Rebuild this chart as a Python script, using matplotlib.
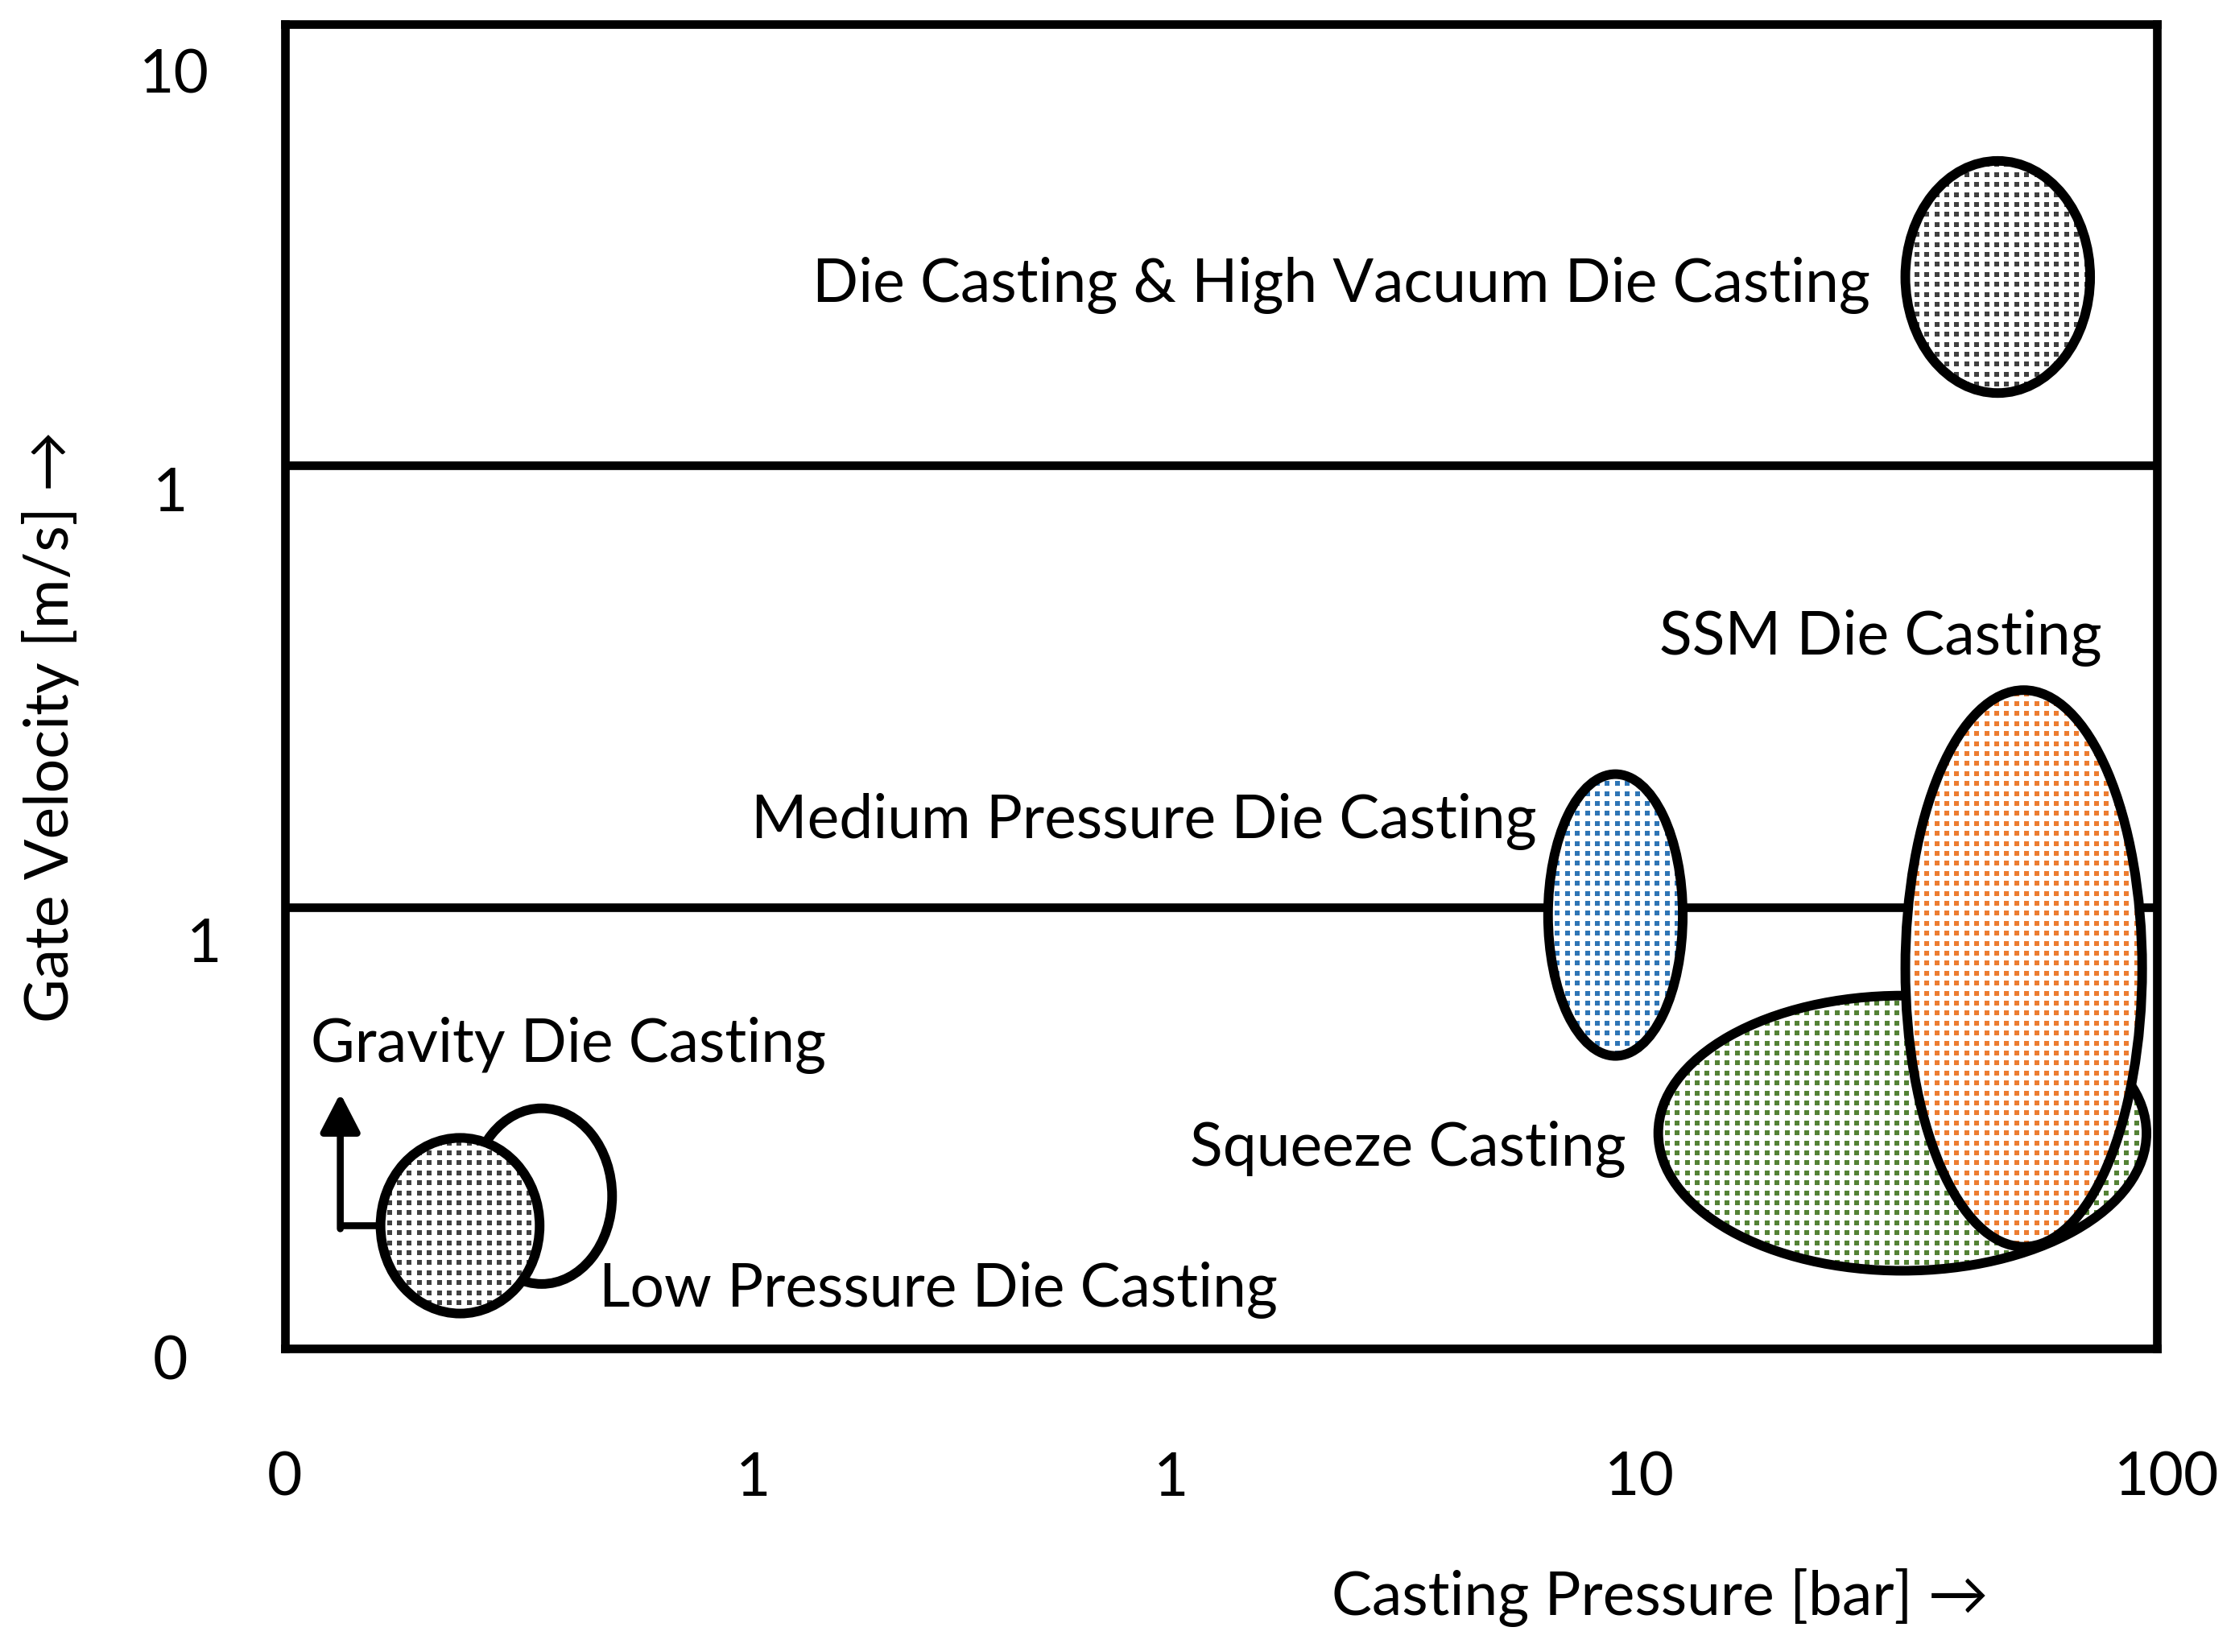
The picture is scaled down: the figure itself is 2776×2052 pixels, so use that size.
import numpy as np
import matplotlib
matplotlib.use("Agg")
import matplotlib.pyplot as plt
from matplotlib.patches import Ellipse

# process windows: casting pressure [bar], gate velocity [m/s]
processes = ["Die Casting & High Vacuum Die Casting", "SSM Die Casting",
             "Medium Pressure Die Casting", "Squeeze Casting",
             "Gravity Die Casting", "Low Pressure Die Casting"]
pressure_lo = [29, 29, 5.0, 8.6, 0.016, 0.025]
pressure_hi = [72, 93, 9.7, 95, 0.035, 0.050]
velocity_lo = [1.46, 0.017, 0.046, 0.015, 0.012, 0.014]
velocity_hi = [4.9, 0.31, 0.20, 0.063, 0.030, 0.035]
zone_limits = [0.1, 1.0]

x_tick_labels = ["0", "1", "1", "10", "100"]
y_tick_labels = ["10", "1", "1", "0"]

# styling / layout
dot_colors = ["#404040", "#ED7D31", "#2E75B6", "#548235", "#404040", None]
layers = [2, 4, 2, 3, 4, 3]
label_pos = [(1.388, 0.371, "right"), (1.883, -0.428, "right"),
             (0.674, -0.844, "right"), (0.866, -1.586, "right"),
             (-1.945, -1.351, "left"), (-1.329, -1.905, "left")]
x_tick_pos = [-2.0, -1.0, -0.106, 0.894, 2.021]
y_tick_pos = [0.883, -0.065, -1.086, -2.031]
y_tick_x = [-0.0594, -0.0611, -0.0434, -0.0611]
LW_BOX = 7.7
LW_ELL = 8.6
FS = 54
DOT_STEP = 12.4  # px

plt.rcParams['font.family'] = ['Lato', 'DejaVu Sans']

fig = plt.figure(figsize=(27.76, 20.52), dpi=100)
ax = fig.add_axes([354 / 2776, 1 - 1675 / 2052, 2325 / 2776, 1645 / 2052])
ax.set_xlim(-2, 2)
ax.set_ylim(-2, 1)
ax.set_xticks([])
ax.set_yticks([])
for sp in ax.spines.values():
    sp.set_linewidth(LW_BOX)
    sp.set_zorder(6)

for v in zone_limits:
    ax.axhline(np.log10(v), color='black', lw=LW_BOX, zorder=1)


def dotted_ellipse(cx, cy, w, h, color, z):
    face = Ellipse((cx, cy), w, h, facecolor='white', edgecolor='none', zorder=z)
    ax.add_patch(face)
    if color is not None:
        # square dot screen in pixel space, clipped by the ellipse
        x0, y0 = ax.transData.transform((cx - w / 2, cy - h / 2))
        x1, y1 = ax.transData.transform((cx + w / 2, cy + h / 2))
        xs = np.arange(np.floor(x0 / DOT_STEP) * DOT_STEP, x1 + DOT_STEP, DOT_STEP)
        ys = np.arange(np.floor(y0 / DOT_STEP) * DOT_STEP, y1 + DOT_STEP, DOT_STEP)
        gx, gy = np.meshgrid(xs, ys)
        pts = ax.transData.inverted().transform(np.column_stack([gx.ravel(), gy.ravel()]))
        sc = ax.scatter(pts[:, 0], pts[:, 1], s=18, marker='s', c=color,
                        linewidths=0, zorder=z + 0.1)
        sc.set_clip_path(face)
    ax.add_patch(Ellipse((cx, cy), w, h, fill=False, edgecolor='black',
                         lw=LW_ELL, zorder=z + 0.2))


for i, name in enumerate(processes):
    lx0, lx1 = np.log10(pressure_lo[i]), np.log10(pressure_hi[i])
    ly0, ly1 = np.log10(velocity_lo[i]), np.log10(velocity_hi[i])
    dotted_ellipse((lx0 + lx1) / 2, (ly0 + ly1) / 2, lx1 - lx0, ly1 - ly0,
                   dot_colors[i], layers[i])
    tx, ty, ha = label_pos[i]
    ax.text(tx, ty, name, ha=ha, va='baseline', fontsize=FS, zorder=7)

# arrow from the gravity window
g = processes.index("Gravity Die Casting")
gx = np.log10(pressure_lo[g])
gy = (np.log10(velocity_lo[g]) + np.log10(velocity_hi[g])) / 2
ax_x = gx - 0.086
ax.plot([gx, ax_x], [gy, gy], color='black', lw=6.2, zorder=5,
        solid_capstyle='butt')
ax.annotate('', xy=(ax_x, gy + 0.30), xytext=(ax_x, gy - 0.007),
            arrowprops=dict(arrowstyle='-|>,head_length=2.9,head_width=1.5',
                            mutation_scale=10, color='black', lw=6.2,
                            shrinkA=0, shrinkB=0), zorder=5)

# tick labels
for p, lab in zip(x_tick_pos, x_tick_labels):
    ax.text(p, -0.0979, lab, transform=ax.get_xaxis_transform(),
            ha='center', va='center', fontsize=FS, clip_on=False)
for p, lab, xx in zip(y_tick_pos, y_tick_labels, y_tick_x):
    ax.text(xx, p, lab, transform=ax.get_yaxis_transform(),
            ha='center', va='center', fontsize=FS, clip_on=False)

ax.text(0.939, -0.188, "Casting Pressure [bar] \u2192", transform=ax.get_xaxis_transform(),
        ha='center', va='center', fontsize=FS)
ax.text(-0.1256, -0.592, "Gate Velocity [m/s] \u2192", transform=ax.get_yaxis_transform(),
        ha='center', va='center', fontsize=FS, rotation=90)

fig.savefig("out.png", dpi=100, facecolor='white')
